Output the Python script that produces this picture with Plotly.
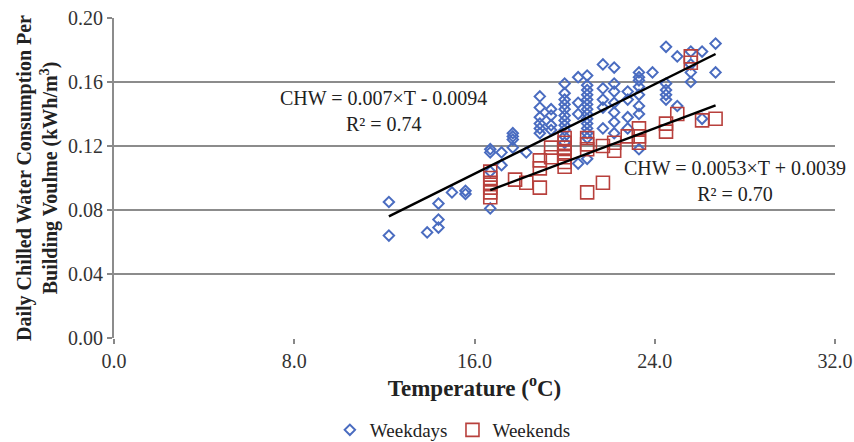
import plotly.graph_objects as go

# weekday points (temperature in C, chilled water in kWh/m3)
weekday_temp = [12.2, 12.2, 13.9, 14.4, 14.4, 14.4, 15.0, 15.6, 15.6,
                16.7, 16.7, 16.7, 16.7, 17.2, 17.2, 17.7, 17.7, 17.7, 17.7, 18.3,
                18.9, 18.9, 18.9, 18.9, 18.9, 18.9, 19.4, 19.4, 19.4, 19.4,
                20.0, 20.0, 20.0, 20.0, 20.0, 20.0, 20.0, 20.0, 20.0, 20.0, 20.0,
                20.6, 20.6, 20.6, 20.6,
                21.0, 21.0, 21.0, 21.0, 21.0, 21.0, 21.0, 21.0, 21.0, 21.0, 21.0, 21.0, 21.0, 21.0,
                21.7, 21.7, 21.7, 21.7, 21.7,
                22.2, 22.2, 22.2, 22.2, 22.2, 22.2, 22.2,
                22.8, 22.8, 22.8, 22.8,
                23.3, 23.3, 23.3, 23.3, 23.3, 23.3, 23.3, 23.3,
                23.9, 24.5, 24.5, 24.5, 24.5, 24.5, 25.0, 25.0,
                25.6, 25.6, 25.6, 25.6, 26.1, 26.1, 26.7, 26.7]
weekday_chw = [0.085, 0.064, 0.066, 0.084, 0.074, 0.069, 0.091, 0.092, 0.090,
               0.118, 0.116, 0.104, 0.081, 0.116, 0.108, 0.128, 0.126, 0.124, 0.119, 0.116,
               0.151, 0.144, 0.138, 0.134, 0.131, 0.128, 0.143, 0.139, 0.133, 0.130,
               0.159, 0.153, 0.149, 0.146, 0.143, 0.139, 0.136, 0.133, 0.130, 0.126, 0.122,
               0.163, 0.147, 0.140, 0.109,
               0.164, 0.158, 0.155, 0.152, 0.149, 0.146, 0.143, 0.140, 0.137, 0.134, 0.131, 0.128, 0.125, 0.112,
               0.171, 0.156, 0.149, 0.144, 0.131,
               0.169, 0.159, 0.154, 0.147, 0.141, 0.135, 0.128,
               0.154, 0.149, 0.138, 0.131,
               0.166, 0.163, 0.161, 0.157, 0.152, 0.145, 0.140, 0.118,
               0.166, 0.182, 0.159, 0.155, 0.152, 0.149, 0.176, 0.145,
               0.179, 0.171, 0.166, 0.160, 0.179, 0.137, 0.184, 0.166]

# weekend points
weekend_temp = [16.7, 16.7, 16.7, 16.7, 16.7, 16.7, 17.8, 18.3,
                18.9, 18.9, 18.9, 19.4, 19.4,
                20.0, 20.0, 20.0, 20.0, 20.0, 20.0, 20.0,
                21.0, 21.0, 21.0, 21.0, 21.7, 21.7,
                22.2, 22.2, 22.8, 23.3, 23.3, 23.3,
                24.5, 24.5, 25.0, 25.6, 25.6, 26.1, 26.7]
weekend_chw = [0.104, 0.100, 0.097, 0.094, 0.091, 0.088, 0.099, 0.097,
               0.111, 0.106, 0.094, 0.119, 0.113,
               0.125, 0.122, 0.119, 0.116, 0.113, 0.110, 0.107,
               0.125, 0.121, 0.118, 0.091, 0.120, 0.097,
               0.122, 0.117, 0.126, 0.131, 0.126, 0.122,
               0.134, 0.129, 0.140, 0.176, 0.172, 0.136, 0.137]

# linear fits as printed on the chart
fit_weekday_x = [12.2, 26.7]
fit_weekday_y = [0.076, 0.1775]
fit_weekend_x = [16.7, 26.7]
fit_weekend_y = [0.0924, 0.1454]

serif = "Liberation Serif, Times New Roman, serif"
blue = "#4a6cc0"
red = "#b8403c"

fig = go.Figure()
fig.add_trace(go.Scatter(x=weekday_temp, y=weekday_chw, mode="markers", name="Weekdays",
                         marker=dict(symbol="diamond-open", size=8, color=blue,
                                     line=dict(width=2, color=blue))))
fig.add_trace(go.Scatter(x=weekend_temp, y=weekend_chw, mode="markers", name="Weekends",
                         marker=dict(symbol="square-open", size=13, color=red,
                                     line=dict(width=1.6, color=red))))
fig.add_trace(go.Scatter(x=fit_weekday_x, y=fit_weekday_y, mode="lines", showlegend=False,
                         line=dict(color="black", width=2.5)))
fig.add_trace(go.Scatter(x=fit_weekend_x, y=fit_weekend_y, mode="lines", showlegend=False,
                         line=dict(color="black", width=2.5)))

fig.add_annotation(x=11.95, y=0.142, text="CHW = 0.007×T - 0.0094<br>R² = 0.74",
                   showarrow=False, font=dict(family=serif, size=20, color="#222"),
                   align="center")
fig.add_annotation(x=27.55, y=0.098, text="CHW = 0.0053×T + 0.0039<br>R² = 0.70",
                   showarrow=False, font=dict(family=serif, size=20, color="#222"),
                   align="center")

fig.update_layout(
    width=854, height=442,
    margin=dict(l=114, r=19, t=18, b=104, autoexpand=False),
    plot_bgcolor="white", paper_bgcolor="white",
    font=dict(family=serif, size=20, color="#333"),
    legend=dict(orientation="h", x=0.47, xanchor="center", y=-0.2875, yanchor="middle",
                font=dict(family=serif, size=19, color="#222"), itemwidth=30),
    xaxis=dict(range=[0, 32], tickvals=[0, 8, 16, 24, 32], tickformat=".1f",
               showgrid=False, zeroline=False, showline=False, automargin=False,
               ticks="outside", ticklen=5, tickcolor="#888", tickwidth=1.5,
               ticklabeloverflow="allow",
               tickfont=dict(family=serif, size=20, color="#333"),
               title=dict(text="<b>Temperature (<sup>o</sup>C)</b>", standoff=8,
                          font=dict(family=serif, size=23, color="#222"))),
    yaxis=dict(range=[0, 0.2], tickvals=[0, 0.04, 0.08, 0.12, 0.16, 0.2], tickformat=".2f",
               showgrid=True, gridcolor="#8c8c8c", gridwidth=2, zeroline=False,
               showline=True, linecolor="#8c8c8c", linewidth=2, automargin=False,
               ticks="outside", ticklen=5, tickcolor="#888", tickwidth=1.5,
               ticklabeloverflow="allow",
               tickfont=dict(family=serif, size=20, color="#333"),
               title=dict(text="<b>Daily Chilled Water Consumption Per<br>Building Voulme (kWh/m<sup>3</sup>)</b>",
                          standoff=5, font=dict(family=serif, size=20, color="#222"))),
)

# drop the default 8px page margin so the figure fills the window exactly, hide the modebar
fig.write_html("out.html", config={"displayModeBar": False},
               post_script="document.body.style.margin='0px';"
                           "document.documentElement.style.overflow='hidden';")
